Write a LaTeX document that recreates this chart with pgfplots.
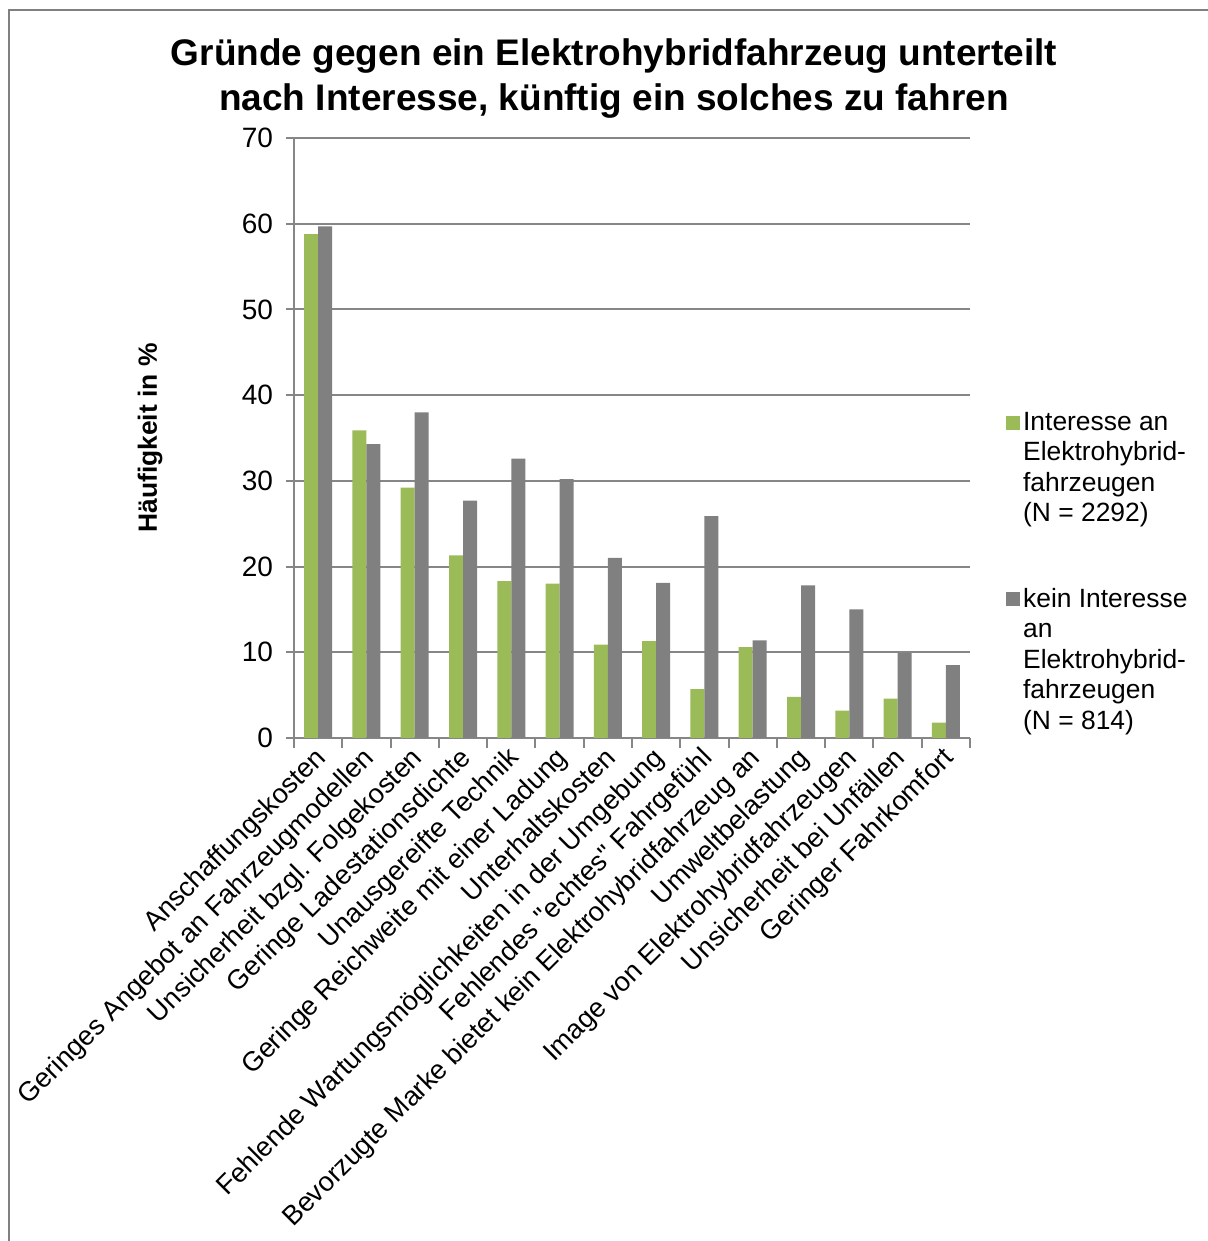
\documentclass[border=0pt]{standalone}
\usepackage{pgfplots}
\pgfplotsset{compat=1.18}
\usepackage{fontspec}
\setmainfont{Liberation Sans}[Ligatures=TeXOff]
\definecolor{cgreen}{HTML}{9BBB59}
\definecolor{cgray}{HTML}{808080}
\definecolor{cgrid}{HTML}{868686}
\begin{document}
\begin{tikzpicture}
\useasboundingbox (0,0) rectangle (604pt,620.5pt);
\draw[cgray, line width=1pt] (4.6pt,0) -- (4.6pt,615.7pt) -- (604pt,615.7pt);
\node[align=center, font=\fontsize{18.5}{22.5}\selectfont\bfseries] at (307pt,581pt)
  {Gründe gegen ein Elektrohybridfahrzeug unterteilt\\nach Interesse, künftig ein solches zu fahren};
\begin{axis}[
  at={(147pt,251.5pt)}, anchor=south west,
  scale only axis, width=338pt, height=300pt,
  ybar=0pt, bar width=7pt,
  xmin=-0.5, xmax=13.5, ymin=0, ymax=70,
  ytick={0,10,...,70},
  yticklabel={\pgfmathprintnumber[assume math mode=true]{\tick}},
  yticklabel style={font=\fontsize{14}{16}\selectfont, xshift=-3pt},
  xtick={0,...,13},
  xticklabels={Anschaffungskosten,Geringes Angebot an Fahrzeugmodellen,Unsicherheit bzgl. Folgekosten,Geringe Ladestationsdichte,Unausgereifte Technik,Geringe Reichweite mit einer Ladung,Unterhaltskosten,Fehlende Wartungsmöglichkeiten in der Umgebung,Fehlendes "echtes" Fahrgefühl,Bevorzugte Marke bietet kein Elektrohybridfahrzeug an,Umweltbelastung,Image von Elektrohybridfahrzeugen,Unsicherheit bei Unfällen,Geringer Fahrkomfort},
  minor xtick={-0.5,0.5,...,13.5},
  major x tick style={draw=none},
  minor x tick style={cgrid, line width=1pt},
  minor tick length=5pt,
  y tick style={cgrid, line width=1pt},
  major tick length=4pt,
  tick align=outside,
  axis lines*=left,
  axis line style={cgrid, line width=1pt},
  ymajorgrids, grid style={cgrid, line width=1pt},
  /pgf/number format/assume math mode=true,
  xticklabel style={font=\fontsize{13.6}{16}\selectfont, xshift=-2.5pt, yshift=2pt, rotate=45, anchor=north east, inner sep=1pt},
  ylabel={Häufigkeit in \%},
  ylabel style={font=\fontsize{13.2}{15}\selectfont\bfseries, at={(axis description cs:-0.213,0.5)}, anchor=center},
  legend style={at={(axis description cs:1.044,0.557)}, anchor=north west, draw=none, fill=none,
    font=\fontsize{13.2}{15.25}\selectfont, row sep=73.5pt,
    nodes={inner xsep=1.5pt}},
  legend image code/.code={\fill[#1, draw=none] (-2.5pt,-3.5pt) rectangle (4.5pt,3.5pt);},
  legend cell align=left,
]
\addplot[fill=cgreen, draw=none] coordinates {
(0,58.8) (1,35.9) (2,29.2) (3,21.3) (4,18.3) (5,18.0) (6,10.9) (7,11.3) (8,5.7) (9,10.6) (10,4.8) (11,3.2) (12,4.6) (13,1.8)};
\addlegendentry{\parbox[t]{92pt}{Interesse an\\Elektrohybrid-\\fahrzeugen\\(N = 2292)}}
\addplot[fill=cgray, draw=none] coordinates {
(0,59.7) (1,34.3) (2,38.0) (3,27.7) (4,32.6) (5,30.2) (6,21.0) (7,18.1) (8,25.9) (9,11.4) (10,17.8) (11,15.0) (12,9.9) (13,8.5)};
\addlegendentry{\parbox[t]{92pt}{kein Interesse\\an\\Elektrohybrid-\\fahrzeugen\\(N = 814)}}
\end{axis}
\end{tikzpicture}
\end{document}
